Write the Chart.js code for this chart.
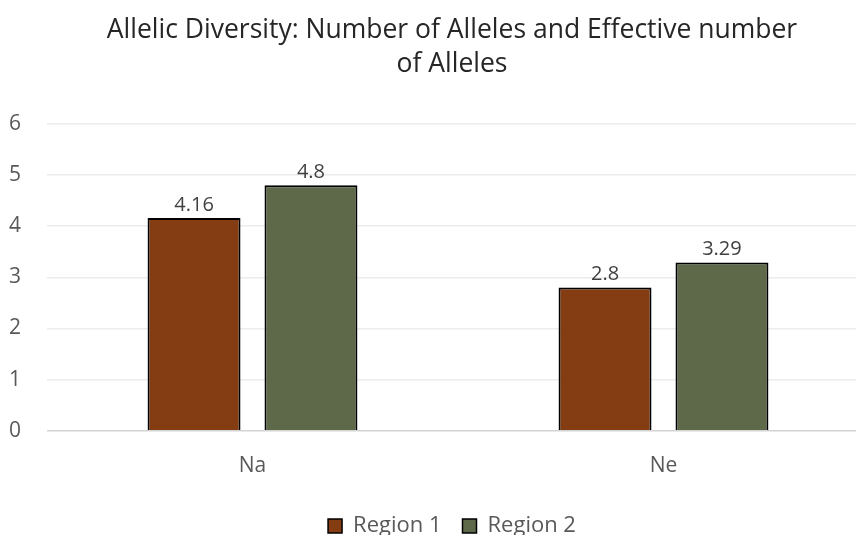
<!DOCTYPE html>
<html>
<head>
<meta charset="utf-8">
<script src="https://cdn.jsdelivr.net/npm/chart.js@4.4.0/dist/chart.umd.min.js"></script>
<style>
  html, body { margin: 0; padding: 0; background: #fff; overflow: hidden; }
  #wrap { position: absolute; left: 0; top: 0; width: 904px; height: 547px; }
</style>
</head>
<body>
<div id="wrap"><canvas id="myChart"></canvas></div>
<script>
// chart data
var categories = ['Na', 'Ne'];
var region1 = [4.16, 2.8];
var region2 = [4.8, 3.29];
var seriesNames = ['Region 1', 'Region 2'];
var yTicks = [0, 1, 2, 3, 4, 5, 6];

var FONT = "'Open Sans', 'Noto Sans', sans-serif";

// writes the value above each bar
var barValues = {
    id: 'barValues',
    afterDatasetsDraw: function (chart) {
        var ctx = chart.ctx;
        ctx.save();
        ctx.font = '20px ' + FONT;
        ctx.fillStyle = '#404040';
        ctx.textAlign = 'center';
        ctx.textBaseline = 'bottom';
        chart.data.datasets.forEach(function (ds, i) {
            chart.getDatasetMeta(i).data.forEach(function (bar, j) {
                ctx.fillText(String(ds.data[j]), bar.x, bar.y - 3);
            });
        });
        ctx.restore();
    }
};

var alleleChart = new Chart(document.getElementById('myChart'), {
    type: 'bar',
    data: {
        labels: categories,
        datasets: [{
            label: seriesNames[0],
            data: region1,
            backgroundColor: '#843C12',
            borderColor: '#000',
            borderWidth: 2,
            categoryPercentage: 0.569,
            barPercentage: 0.795
        }, {
            label: seriesNames[1],
            data: region2,
            backgroundColor: '#5E6949',
            borderColor: '#000',
            borderWidth: 2,
            categoryPercentage: 0.569,
            barPercentage: 0.795
        }]
    },
    options: {
        responsive: true,
        maintainAspectRatio: false,
        animation: false,
        layout: { padding: { top: 14, right: 0, left: 0, bottom: 0 } },
        plugins: {
            title: {
                display: true,
                text: ['Allelic Diversity: Number of Alleles and Effective number', 'of Alleles'],
                color: '#262626',
                font: { family: FONT, size: 26.5, weight: 'normal', lineHeight: 1.26 },
                padding: { top: 0, bottom: 43 }
            },
            legend: {
                position: 'bottom',
                labels: {
                    color: '#595959',
                    font: { family: FONT, size: 22 },
                    boxWidth: 14,
                    boxHeight: 14,
                    padding: 21,
                    generateLabels: function (chart) {
                        return chart.data.datasets.map(function (ds, i) {
                            return {
                                text: ds.label,
                                fillStyle: ds.backgroundColor,
                                strokeStyle: '#000',
                                lineWidth: 1.5,
                                datasetIndex: i,
                                fontColor: '#595959'
                            };
                        });
                    }
                }
            },
            tooltip: { enabled: false }
        },
        scales: {
            x: {
                grid: { display: false },
                border: { display: false },
                ticks: { color: '#595959', font: { family: FONT, size: 21 }, padding: 15 }
            },
            y: {
                min: yTicks[0],
                max: yTicks[yTicks.length - 1],
                afterFit: function (scale) { scale.width = 47; },
                ticks: { stepSize: 1, color: '#595959', font: { family: FONT, size: 21 }, padding: 26 },
                grid: {
                    drawTicks: false,
                    lineWidth: 1.5,
                    color: function (c) { return c.tick && c.tick.value === 0 ? '#d4d4d4' : '#ececec'; }
                },
                border: { display: false }
            },
            // empty right axis, only keeps a margin right of the plot
            yRight: {
                position: 'right',
                afterFit: function (scale) { scale.width = 35; },
                ticks: { display: false },
                grid: { display: false },
                border: { display: false }
            }
        }
    },
    plugins: [barValues]
});
</script>
</body>
</html>
